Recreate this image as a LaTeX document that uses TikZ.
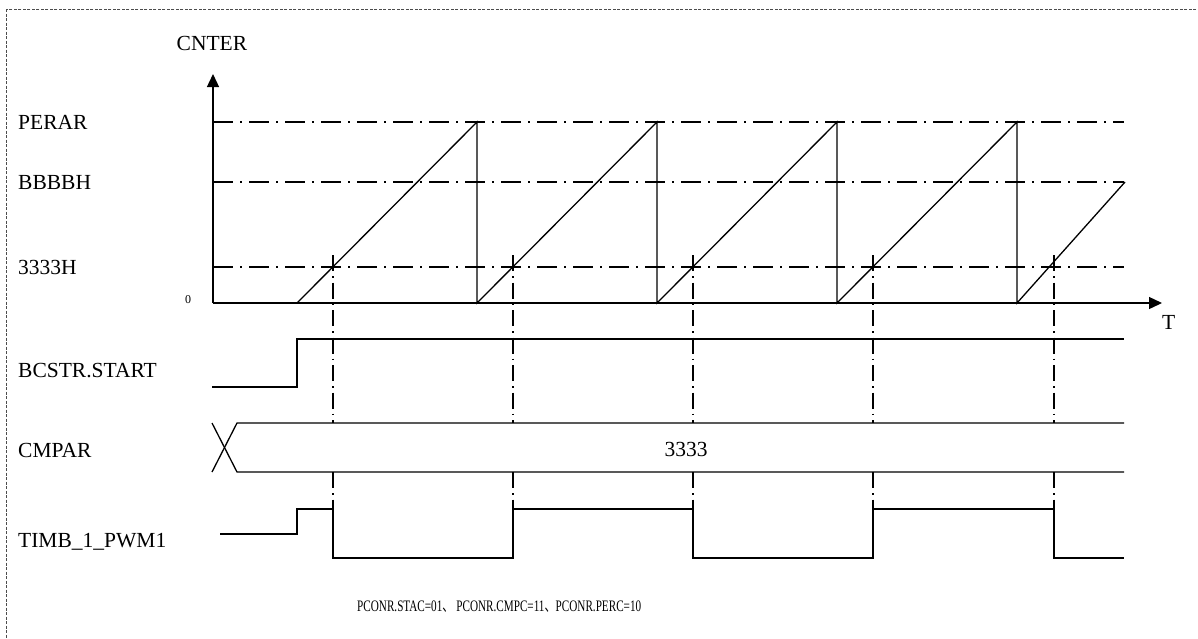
\documentclass[tikz,border=0pt]{standalone}
\usepackage{graphicx}
\usepackage{fontspec}
\setmainfont{Liberation Serif}
\newfontfamily\cjkfont{Noto Sans CJK SC}
\usetikzlibrary{arrows.meta}
\begin{document}
\begin{tikzpicture}[x=1pt,y=-1pt,
  lbl/.style={anchor=base west, inner sep=0pt, font=\fontsize{21.5}{24}\selectfont},
  dashdot/.style={line width=1.2pt, dash pattern=on 20pt off 7pt on 2pt off 7pt},
  marker/.style={line width=1.2pt, dash pattern=on 16pt off 5pt on 1.5pt off 5pt},
  signal/.style={line width=1.3pt, line join=miter},
  axisarrow/.style={line width=1.3pt, -{Triangle[length=13pt,width=12pt]}},
  frame/.style={line width=0.9pt, draw=black!70, dash pattern=on 3pt off 1.5pt}]
\useasboundingbox (0,0) rectangle (1198,638);
\clip (0,0) rectangle (1198,638);
\draw[frame] (6,9) rectangle (1215,655);

% labels
\node[lbl] (cnter) at (176.5,50) {CNTER};
\node[lbl] (perar) at (18,129) {PERAR};
\node[lbl] (bbbbh) at (18,189) {BBBBH};
\node[lbl] (h3333) at (18,274) {3333H};
\node[lbl] (bcstr) at (18,377) {BCSTR.START};
\node[lbl] (cmpar) at (18,457) {CMPAR};
\node[lbl] (pwm) at (18,547) {TIMB\_1\_PWM1};
\node[lbl, anchor=base, font=\fontsize{12}{14}\selectfont] (zero) at (188,303) {0};
\node[lbl] (tlab) at (1162,329) {T};
\node[lbl, anchor=base] (val) at (686,456) {3333};
\node[anchor=base west, inner sep=0pt] (note) at (357,611)
  {\resizebox{284pt}{\height}{\fontsize{16}{18}\selectfont PCONR.STAC=01{\cjkfont 、} PCONR.CMPC=11{\cjkfont 、}PCONR.PERC=10}};

% axes
\coordinate (O) at (213,303);
\coordinate (ytip) at (213,74);
\coordinate (xtip) at (1162,303);
\draw[axisarrow] (O) -- (ytip);
\draw[axisarrow] (O) -- (xtip);

% reference levels
\draw[dashdot] (213,122) -- (1124,122);
\draw[dashdot] (213,182) -- (1124,182);
\draw[dashdot] (213,267) -- (1124,267);

% counter sawtooth
\draw[signal] (297,303) -- (477,122) -- (477,303) -- (657,122) -- (657,303)
  -- (837,122) -- (837,303) -- (1017,122) -- (1017,303) -- (1125,182);

% compare markers
\foreach \mx in {333,513,693,873,1054}{
  \draw[marker] (\mx,255) -- (\mx,423);
  \draw[marker] (\mx,472) -- (\mx,509);
}

% BCSTR.START
\draw[signal] (212,387) -- (297,387) -- (297,339) -- (1124,339);

% CMPAR bus
\draw[signal] (212,423) -- (237,472) -- (1124,472);
\draw[signal] (212,472) -- (237,423) -- (1124,423);

% PWM output
\draw[signal] (220,534) -- (297,534) -- (297,509) -- (333,509) -- (333,558)
  -- (513,558) -- (513,509) -- (693,509) -- (693,558) -- (873,558)
  -- (873,509) -- (1054,509) -- (1054,558) -- (1124,558);
\end{tikzpicture}
\end{document}
